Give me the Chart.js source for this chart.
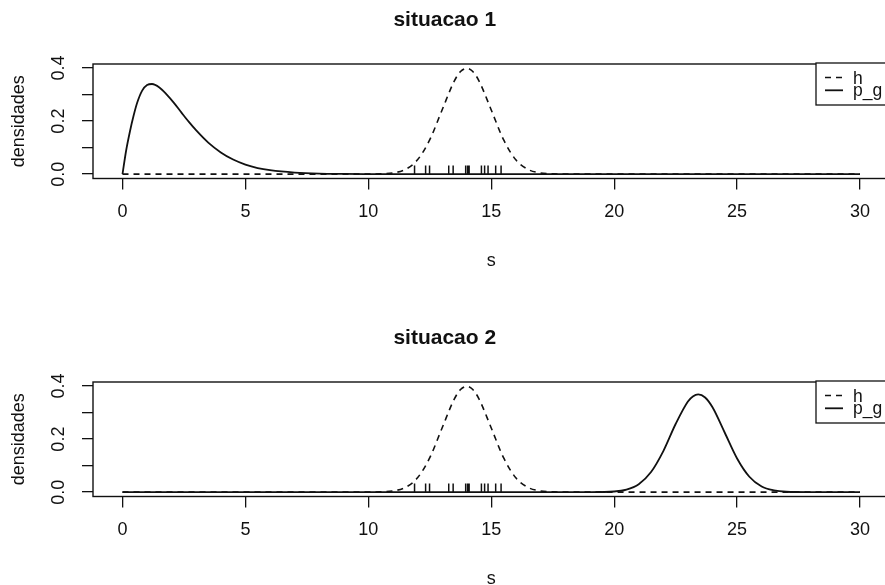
<!DOCTYPE html>
<html>
<head>
<meta charset="utf-8">
<script src="https://cdn.jsdelivr.net/npm/chart.js@4.4.0/dist/chart.umd.min.js"></script>
<style>
  html, body { margin: 0; padding: 0; background: #fff; overflow: hidden; width: 885px; height: 585px; }
  .panel { position: absolute; left: 0; width: 900px; height: 272px; }
</style>
</head>
<body>
<div class="panel" style="top:0px"><canvas id="chart1" width="900" height="272"></canvas></div>
<div class="panel" style="top:318px"><canvas id="chart2" width="900" height="272"></canvas></div>
<script>
// h density (dashed)
const hS = [0, 5, 9, 10, 10.5, 11, 11.5, 12, 12.5, 13, 13.5, 13.75, 14, 14.25, 14.5, 15, 15.5, 16, 16.5, 17, 17.5, 18, 19, 20, 25, 30];
const hY = [0, 0, 0, 0.0001, 0.0009, 0.0044, 0.0175, 0.054, 0.13, 0.242, 0.352, 0.387, 0.399, 0.387, 0.352, 0.242, 0.13, 0.054, 0.0175, 0.0044, 0.0009, 0.0001, 0, 0, 0, 0];

// p_g density, situacao 1
const pg1S = [0, 0.15, 0.3, 0.45, 0.6, 0.8, 1.0, 1.2, 1.5, 1.8, 2.1, 2.4, 2.7, 3.0, 3.5, 4.0, 4.5, 5.0, 5.5, 6.0, 7.0, 8.0, 9.0, 10, 12, 15, 20, 25, 30];
const pg1Y = [0, 0.09, 0.16, 0.22, 0.27, 0.315, 0.336, 0.34, 0.327, 0.3, 0.268, 0.232, 0.197, 0.165, 0.118, 0.082, 0.055, 0.036, 0.023, 0.015, 0.006, 0.002, 0.0008, 0.0003, 0, 0, 0, 0, 0];

// p_g density, situacao 2
const pg2S = [0, 10, 18, 19, 20, 20.5, 21, 21.5, 22, 22.5, 23, 23.2, 23.42, 23.7, 24, 24.5, 25, 25.5, 26, 26.5, 27, 28, 30];
const pg2Y = [0, 0, 0, 0.0001, 0.0024, 0.0096, 0.03, 0.076, 0.155, 0.257, 0.342, 0.361, 0.369, 0.357, 0.32, 0.224, 0.127, 0.058, 0.021, 0.0064, 0.0015, 0.0001, 0];

// observed values shown as a rug
const rugS = [11.88, 12.33, 12.49, 13.27, 13.45, 13.96, 14.04, 14.1, 14.6, 14.73, 14.87, 15.18, 15.4];
const rugHeight = 0.033;

// axes
const xTicks = [0, 5, 10, 15, 20, 25, 30];
const yTicks = [0, 0.1, 0.2, 0.3, 0.4];
const yTickLabels = ['0.0', '', '0.2', '', '0.4'];

const FONT = '"Liberation Sans", Arial, Helvetica, sans-serif';
const toPoints = (xs, ys) => xs.map((x, i) => ({ x: x, y: ys[i] }));

// rug ticks: vertical segments separated by gaps
function rugPoints(values) {
  const pts = [];
  values.forEach(v => {
    pts.push({ x: v, y: 0 }, { x: v, y: rugHeight }, { x: v, y: null });
  });
  return pts;
}

// frame around the plotting region
const boxPlugin = {
  id: 'plotBox',
  afterDraw(chart) {
    const a = chart.chartArea, ctx = chart.ctx;
    ctx.save();
    ctx.strokeStyle = '#111';
    ctx.lineWidth = 1.4;
    ctx.strokeRect(a.left, a.top, a.right - a.left, a.bottom - a.top);
    ctx.restore();
  }
};

// R-style legend box in the top right corner
const legendPlugin = {
  id: 'rLegend',
  afterDraw(chart) {
    const ctx = chart.ctx;
    const top = chart.chartArea.top - 1, left = 816;
    ctx.save();
    ctx.fillStyle = '#fff';
    ctx.fillRect(left, top, 120, 42);
    ctx.strokeStyle = '#111';
    ctx.lineWidth = 1.3;
    ctx.strokeRect(left, top, 120, 42);
    ctx.font = '17.5px ' + FONT;
    ctx.textBaseline = 'alphabetic';
    chart.data.datasets.filter(d => d.inLegend).forEach((d, i) => {
      const y = top + 20.5 + i * 12.8;
      ctx.strokeStyle = '#111';
      ctx.lineWidth = d.borderWidth;
      ctx.setLineDash(d.borderDash || []);
      ctx.beginPath();
      ctx.moveTo(left + 9, y - 6);
      ctx.lineTo(left + 27, y - 6);
      ctx.stroke();
      ctx.setLineDash([]);
      ctx.fillStyle = '#111';
      ctx.fillText(d.label, left + 37, y);
    });
    ctx.restore();
  }
};

function makePanel(canvasId, titleText, pgS, pgY) {
  return new Chart(document.getElementById(canvasId), {
    type: 'line',
    data: {
      datasets: [
        {
          label: 'rug',
          data: rugPoints(rugS),
          borderColor: '#111',
          borderWidth: 1.5,
          pointRadius: 0,
          spanGaps: false
        },
        {
          label: 'h',
          data: toPoints(hS, hY),
          borderColor: '#111',
          borderWidth: 1.6,
          borderDash: [6, 5],
          pointRadius: 0,
          cubicInterpolationMode: 'monotone',
          inLegend: true
        },
        {
          label: 'p_g',
          data: toPoints(pgS, pgY),
          borderColor: '#111',
          borderWidth: 1.8,
          pointRadius: 0,
          cubicInterpolationMode: 'monotone',
          inLegend: true
        }
      ]
    },
    options: {
      responsive: false,
      animation: false,
      layout: { padding: { left: 0, right: 10.5, top: 0, bottom: 0 } },
      plugins: {
        legend: { display: false },
        tooltip: { enabled: false },
        title: {
          display: true,
          text: titleText,
          color: '#111',
          font: { family: FONT, size: 21, weight: 'bold' },
          padding: { top: 7.4, bottom: 31.4 }
        }
      },
      scales: {
        x: {
          type: 'linear',
          min: -1.2,
          max: 31.2,
          afterBuildTicks: s => { s.ticks = xTicks.map(v => ({ value: v })); },
          afterFit: s => { s.height = 93.5; },
          ticks: {
            includeBounds: false,
            color: '#111',
            padding: 11.7,
            maxRotation: 0,
            font: { family: FONT, size: 18 }
          },
          grid: { drawOnChartArea: false, drawTicks: true, tickLength: 11, color: '#111', lineWidth: 1.3 },
          border: { display: false },
          title: {
            display: true,
            text: 's',
            color: '#111',
            padding: { top: 0, bottom: 0 },
            font: { family: FONT, size: 18 }
          }
        },
        y: {
          min: -0.0165,
          max: 0.4155,
          afterBuildTicks: s => { s.ticks = yTicks.map(v => ({ value: v })); },
          afterFit: s => { s.width = 93; },
          ticks: {
            color: '#111',
            padding: 10.5,
            minRotation: 90,
            maxRotation: 90,
            crossAlign: 'center',
            font: { family: FONT, size: 18 },
            callback: (v, i) => yTickLabels[i]
          },
          grid: { drawOnChartArea: false, drawTicks: true, tickLength: 11, color: '#111', lineWidth: 1.3 },
          border: { display: false },
          title: {
            display: true,
            text: 'densidades',
            color: '#111',
            padding: { top: 8, bottom: 0 },
            font: { family: FONT, size: 18 }
          }
        }
      }
    },
    plugins: [boxPlugin, legendPlugin]
  });
}

makePanel('chart1', 'situacao 1', pg1S, pg1Y);
makePanel('chart2', 'situacao 2', pg2S, pg2Y);
</script>
</body>
</html>
